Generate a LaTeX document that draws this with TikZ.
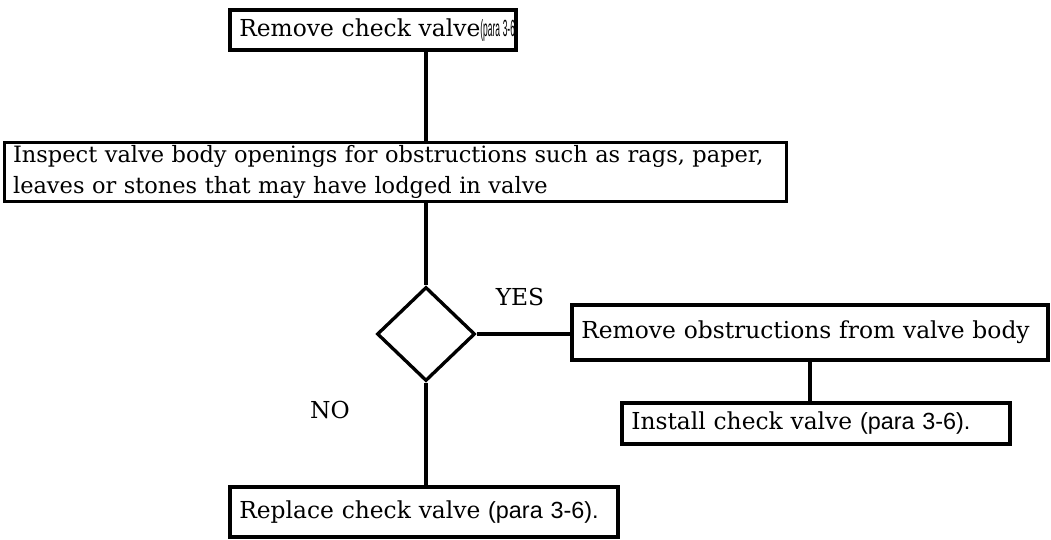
\documentclass[tikz,border=0pt]{standalone}
\usepackage{fontspec}
\setmainfont{DejaVu Serif}
\newfontfamily\parafont{Liberation Sans}
\usetikzlibrary{positioning,shapes.geometric,calc}
\newcommand{\para}[1]{{\parafont #1}}
\tikzset{
  stepbox/.style={rectangle, draw, line width=1.9pt, inner xsep=5pt, inner ysep=2pt,
                  align=left, font=\fontsize{13.3}{17}\selectfont},
  decide/.style={diamond, draw, line width=1.9pt, inner sep=0pt,
                 minimum width=1.96cm, minimum height=1.88cm},
  link/.style={line width=1.9pt},
  lbl/.style={font=\fontsize{13.3}{15}\selectfont}
}
\begin{document}
\begin{tikzpicture}[x=0.02cm, y=-0.02cm]
\useasboundingbox (0,0) rectangle (1051,540);
\node[stepbox, minimum width=5.72cm, minimum height=0.8cm, text width=5.35cm] (rmv) at (373,30)
  {\mbox{Remove check valve\scalebox{0.36}[1]{\para{(para 3-6)}}}};
\node[stepbox, inner ysep=0pt, font=\fontsize{12.8}{17.5}\selectfont,
      minimum width=15.62cm, minimum height=1.18cm, text width=15.3cm] (insp) at (395.5,172)
  {\mbox{Inspect valve body openings for obstructions such as rags, paper,}\\leaves or stones that may have lodged in valve};
\node[decide] (dec) at (426,334) {};
\node[stepbox, minimum width=9.52cm, minimum height=1.1cm, text width=9.15cm] (obst) at (810,332.5)
  {Remove obstructions from valve body};
\node[stepbox, minimum width=7.76cm, minimum height=0.82cm, text width=7.39cm] (inst) at (816,423.5)
  {Install check valve \para{(para 3-6).}};
\node[stepbox, minimum width=7.76cm, minimum height=1.0cm, text width=7.39cm] (repl) at (424,512)
  {Replace check valve \para{(para 3-6).}};
\node[lbl] (yes) at (520,297) {YES};
\node[lbl] (no) at (330,410) {NO};
\draw[link] (rmv.south -| dec) -- (insp.north -| dec);
\draw[link] (insp.south -| dec) -- (dec.north);
\draw[link] (dec.east) -- (dec.east -| obst.west);
\draw[link] (dec.south) -- (repl.north -| dec);
\draw[link] (obst.south) -- (obst.south |- inst.north);
\end{tikzpicture}
\end{document}
